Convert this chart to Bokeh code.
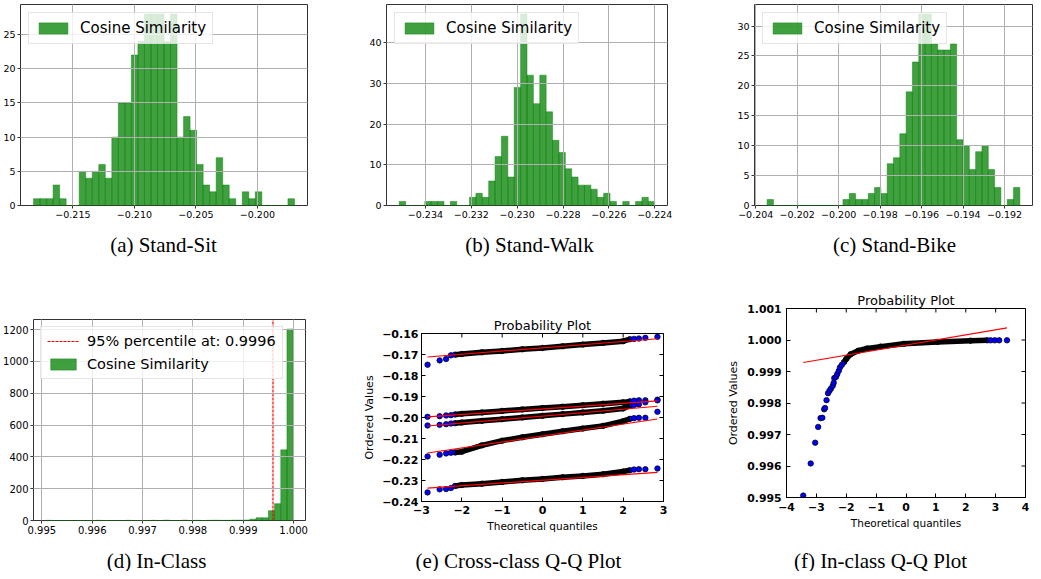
import numpy as np
from bokeh.plotting import figure
from bokeh.models import (Range1d, FixedTicker, CustomJSTickFormatter, Legend, LegendItem)
from bokeh.layouts import row, column
from bokeh.core.properties import value
from bokeh.embed import file_html
from bokeh.resources import INLINE

# ------------------------------------------------------------------ data
# histogram counts (40 bins each) and the data min/max that define the bins
sit_counts = [1, 1, 1, 3, 1, 0, 0, 5, 4, 5, 6, 4, 10, 15, 15, 22, 24, 28, 28, 28,
              24, 28, 10, 13, 11, 6, 3, 2, 7, 3, 1, 0, 2, 1, 2, 0, 0, 0, 0, 1]
sit_range = (-0.21820, -0.19699)
sit_xticks = [-0.215, -0.210, -0.205, -0.200]
sit_yticks = [0, 5, 10, 15, 20, 25]

walk_counts = [1, 0, 0, 0, 1, 1, 1, 0, 1, 0, 0, 2, 3, 2, 6, 12, 17, 7, 29, 47,
               32, 25, 32, 23, 16, 13, 9, 7, 5, 5, 4, 2, 3, 1, 0, 1, 0, 1, 2, 1]
walk_range = (-0.23514, -0.22400)
walk_xticks = [-0.234, -0.232, -0.230, -0.228, -0.226, -0.224]
walk_yticks = [0, 10, 20, 30, 40]

bike_counts = [1, 0, 0, 0, 0, 0, 0, 0, 0, 0, 0, 0, 1, 2, 1, 1, 2, 3, 2, 7,
               8, 12, 19, 24, 32, 32, 27, 26, 26, 27, 11, 10, 6, 9, 10, 6, 3, 0, 1, 3]
bike_range = (-0.20345, -0.19126)
bike_xticks = [-0.204, -0.202, -0.200, -0.198, -0.196, -0.194, -0.192]
bike_yticks = [0, 5, 10, 15, 20, 25, 30]

inclass_counts = [1, 0, 0, 0, 0, 0, 0, 0, 1, 0, 0, 0, 0, 1, 0, 0, 0, 1, 0, 2,
                  0, 0, 2, 0, 1, 0, 1, 2, 1, 1, 2, 2, 3, 8, 17, 17, 62, 106, 444, 1203]
inclass_range = (0.99508, 0.99999)
inclass_xticks = [0.995, 0.996, 0.997, 0.998, 0.999, 1.000]
inclass_yticks = [0, 200, 400, 600, 800, 1000, 1200]
percentile_95 = 0.99959
percentile_label = "95% percentile at: 0.9996"

# cross-class Q-Q plot: theoretical quantiles and ordered values of 5 series
qq_theoretical = [-2.85, -2.55, -2.39, -2.27, -2.17, -2.0, -1.5, -1.0, -0.5, 0.0,
                  0.5, 1.0, 1.5, 2.0, 2.17, 2.27, 2.39, 2.55, 2.85]
qq_series_1 = [-0.17488, -0.17280, -0.17216, -0.17040, -0.17008, -0.16976, -0.16896, -0.16832,
               -0.16752, -0.16688, -0.16608, -0.16528, -0.16448, -0.16368, -0.16272, -0.16256,
               -0.16240, -0.16208, -0.16160]
qq_series_2 = [-0.19967, -0.19935, -0.19903, -0.19887, -0.19855, -0.19823, -0.19759, -0.19687,
               -0.19615, -0.19551, -0.19487, -0.19415, -0.19343, -0.19279, -0.19231, -0.19199,
               -0.19183, -0.19183, -0.19151]
qq_series_3 = [-0.20383, -0.20351, -0.20319, -0.20287, -0.20271, -0.20239, -0.20159, -0.20079,
               -0.19999, -0.19919, -0.19839, -0.19759, -0.19679, -0.19567, -0.19439, -0.19407,
               -0.19375, -0.19279, -0.19183]
qq_series_4 = [-0.21854, -0.21774, -0.21710, -0.21678, -0.21662, -0.21630, -0.21326, -0.21102,
               -0.20942, -0.20798, -0.20654, -0.20526, -0.20398, -0.20175, -0.20063, -0.20031,
               -0.20015, -0.20015, -0.19727]
qq_series_5 = [-0.23566, -0.23422, -0.23406, -0.23358, -0.23262, -0.23214, -0.23150, -0.23070,
               -0.22990, -0.22926, -0.22846, -0.22782, -0.22702, -0.22574, -0.22510, -0.22478,
               -0.22462, -0.22462, -0.22430]
qq_fit_slope = [0.001526, 0.001346, 0.001651, 0.002837, 0.001316]
qq_fit_intercept = [-0.16685, -0.19589, -0.19935, -0.20881, -0.22987]
qq_xticks = [-3, -2, -1, 0, 1, 2, 3]
qq_yticks = [-0.24, -0.23, -0.22, -0.21, -0.20, -0.19, -0.18, -0.17, -0.16]

# in-class Q-Q plot
ic_theoretical = [-3.44, -3.19, -3.04, -2.94, -2.86, -2.80, -2.74, -2.71, -2.66, -2.61, -2.56,
                  -2.51, -2.45, -2.42, -2.40, -2.34, -2.30, -2.25, -2.21, -2.15, -2.08, -2.0,
                  -1.85, -1.6, -1.3, -0.85, -0.07, 1.05, 2.16, 2.72, 2.83, 2.97, 3.12, 3.38]
ic_ordered = [0.99506, 0.99608, 0.99674, 0.99724, 0.99752, 0.99753, 0.99780, 0.99784, 0.99809,
              0.99831, 0.99839, 0.99846, 0.99855, 0.99864, 0.99879, 0.99883, 0.99892, 0.99902,
              0.99913, 0.99921, 0.99929, 0.99940, 0.99955, 0.99966, 0.99973, 0.99979, 0.99988,
              0.99994, 0.99998, 0.99999, 0.99999, 0.99999, 0.99999, 0.99999]
ic_fit_slope = 0.0001612
ic_fit_intercept = 0.999841
ic_xticks = [-4, -3, -2, -1, 0, 1, 2, 3, 4]
ic_yticks = [0.995, 0.996, 0.997, 0.998, 0.999, 1.000, 1.001]

captions_top = ["(a) Stand-Sit", "(b) Stand-Walk", "(c) Stand-Bike"]
captions_bottom = ["(d) In-Class", "(e) Cross-class Q-Q Plot", "(f) In-class Q-Q Plot"]

# ------------------------------------------------------------------ helpers
SANS = "DejaVu Sans"
SERIF = "Liberation Serif"
TOTAL_W = 1033


def fmt(dp):
    return CustomJSTickFormatter(args=dict(dp=dp), code="""
        if (Math.abs(tick) < 1e-12) { return (0).toFixed(dp); }
        const s = Math.abs(tick).toFixed(dp);
        return tick < 0 ? "\\u2212" + s : s;
    """)


def base_fig(w, h, bl, br, bt, bb, xr, yr):
    p = figure(width=w, height=h, x_range=xr, y_range=yr, output_backend="svg",
               toolbar_location=None, min_border_left=bl, min_border_right=br,
               min_border_top=bt, min_border_bottom=bb)
    p.background_fill_color = "white"
    p.border_fill_color = "white"
    return p


def caption_strip(h, xs, texts, y):
    p = figure(width=TOTAL_W, height=h, x_range=Range1d(0, TOTAL_W), y_range=Range1d(0, h),
               output_backend="svg", toolbar_location=None, min_border=0,
               x_axis_type=None, y_axis_type=None)
    p.outline_line_color = None
    p.grid.visible = False
    p.text(x=xs, y=[y] * len(xs), text=texts, text_align="center", text_baseline="middle",
           text_font=value(SERIF), text_font_size=value("21px"), text_color="black")
    return p


def hist_panel(counts, rng, xticks, yticks, xdp, w, h, bl, br, bt, bb, font_size,
               extra_line=None):
    lo, hi = rng
    edges = np.linspace(lo, hi, len(counts) + 1)
    pad = 0.05 * (hi - lo)
    ymax = 1.05 * max(counts)
    p = base_fig(w, h, bl, br, bt, bb, Range1d(lo - pad, hi + pad), Range1d(0, ymax))
    bars = p.quad(left=edges[:-1], right=edges[1:], bottom=0, top=counts,
                  fill_color="#008000", fill_alpha=0.75, line_color="#008000",
                  line_alpha=0.75, line_width=0.6)
    items = []
    if extra_line is not None:
        ln = p.line(x=[extra_line, extra_line], y=[0, ymax], line_color="#ff0000",
                    line_width=1.2, line_dash="3 1")
        items.append(LegendItem(label=percentile_label, renderers=[ln]))
    items.append(LegendItem(label="Cosine Similarity", renderers=[bars]))

    p.xaxis.ticker = FixedTicker(ticks=xticks)
    p.yaxis.ticker = FixedTicker(ticks=yticks)
    p.xaxis.formatter = fmt(xdp)
    p.yaxis.formatter = fmt(0)
    for ax in (p.xaxis, p.yaxis):
        ax.axis_line_color = None
        ax.major_tick_out = 3
        ax.major_tick_in = 0
        ax.major_tick_line_color = "black"
        ax.major_tick_line_width = 0.8
        ax.minor_tick_line_color = None
        ax.major_label_text_font = SANS
        ax.major_label_text_font_size = font_size
        ax.major_label_text_color = "black"
    p.xaxis.major_label_standoff = 2
    p.yaxis.major_label_standoff = 2
    p.xgrid.ticker = FixedTicker(ticks=xticks)
    p.ygrid.ticker = FixedTicker(ticks=yticks)
    for g in (p.xgrid, p.ygrid):
        g.grid_line_color = "#b0b0b0"
        g.grid_line_width = 1
        g.level = "annotation"
    p.outline_line_color = "#333333"
    p.outline_line_width = 1

    two = extra_line is not None
    leg = Legend(items=items, location="top_left", margin=7 if two else 8,
                 padding=6, spacing=7 if two else 0,
                 glyph_width=32 if two else 36, glyph_height=14,
                 label_standoff=8 if two else 9, label_height=14,
                 label_text_font=SANS, label_text_font_size="14.5px" if two else "15px",
                 label_text_color="black",
                 border_line_color="#cccccc", border_line_width=1,
                 background_fill_color="white", background_fill_alpha=0.8)
    leg.level = "overlay"
    p.add_layout(leg)
    return p


def qq_style(p, xticks, yticks, ydp, tick_font, ylab_font, title_font,
             ystand, xstand, ylab_stand, xlab_stand):
    p.title.text = "Probability Plot"
    p.title.align = "center"
    p.title.text_font = SANS
    p.title.text_font_size = title_font
    p.title.text_font_style = "normal"
    p.title.text_color = "black"
    p.title.standoff = 2
    p.xaxis.ticker = FixedTicker(ticks=xticks)
    p.yaxis.ticker = FixedTicker(ticks=yticks)
    p.xaxis.formatter = fmt(0)
    p.yaxis.formatter = fmt(ydp)
    p.xaxis.axis_label = "Theoretical quantiles"
    p.yaxis.axis_label = "Ordered Values"
    for ax in (p.xaxis, p.yaxis):
        ax.axis_line_color = "black"
        ax.major_tick_in = 4
        ax.major_tick_out = 0
        ax.major_tick_line_color = "black"
        ax.minor_tick_line_color = None
        ax.major_label_text_font = SANS
        ax.major_label_text_font_style = "bold"
        ax.major_label_text_font_size = tick_font
        ax.major_label_text_color = "black"
        ax.axis_label_text_font = SANS
        ax.axis_label_text_font_style = "normal"
        ax.axis_label_text_color = "black"
    p.xaxis.axis_label_text_font_size = "10.5px"
    p.yaxis.axis_label_text_font_size = ylab_font
    p.yaxis.major_label_standoff = ystand
    p.xaxis.major_label_standoff = xstand
    p.yaxis.axis_label_standoff = ylab_stand
    p.xaxis.axis_label_standoff = xlab_stand
    p.xgrid.visible = False
    p.ygrid.visible = False
    p.outline_line_color = "black"
    p.outline_line_width = 1
    # mirrored inward ticks on the top and right edges (outer halves clipped by the frame)
    x1 = p.x_range.end
    y1 = p.y_range.end
    p.scatter(x=xticks, y=[y1] * len(xticks), marker="dash", angle=np.pi / 2, size=8,
              line_color="black", line_width=1)
    p.scatter(x=[x1] * len(yticks), y=yticks, marker="dash", size=8,
              line_color="black", line_width=1)


# ------------------------------------------------------------------ row 1
pa = hist_panel(sit_counts, sit_range, sit_xticks, sit_yticks, 3,
                345, 225, 20, 38, 4, 20, "9.5px")
pb = hist_panel(walk_counts, walk_range, walk_xticks, walk_yticks, 3,
                360, 225, 41, 38, 4, 20, "9.5px")
pc = hist_panel(bike_counts, bike_range, bike_xticks, bike_yticks, 3,
                328, 225, 49, 1, 4, 20, "9.5px")
cap1 = caption_strip(40, [163, 529, 894], captions_top, 21)

# ------------------------------------------------------------------ row 2
pd_ = hist_panel(inclass_counts, inclass_range, inclass_xticks, inclass_yticks, 3,
                 345, 280, 32, 40, 54, 25, "10px", extra_line=percentile_95)

pe = base_fig(345, 280, 76, 27, 68, 44, Range1d(-3, 3), Range1d(-0.24, -0.16))
qq_style(pe, qq_xticks, qq_yticks, 2, "11px", "11px", "13px", 3, 4, 3, 3)
all_series = [qq_series_1, qq_series_2, qq_series_3, qq_series_4, qq_series_5]
q = np.array(qq_theoretical)
dense = (q >= -2.2) & (q <= 2.2)
for vals in all_series:
    v = np.array(vals)
    pe.scatter(q, v, size=5.5, fill_color="#0000ff", line_color="black", line_width=0.7)
    pe.line(q[dense], v[dense], line_color="black", line_width=5.5, line_join="round")
for k, b in zip(qq_fit_slope, qq_fit_intercept):
    x_ends = [q[0], q[-1]]
    pe.line(x_ends, [b + k * x for x in x_ends], line_color="red", line_width=1.2)

pf = base_fig(343, 280, 96, 8, 43, 48, Range1d(-4, 4), Range1d(0.995, 1.001))
qq_style(pf, ic_xticks, ic_yticks, 3, "10.8px", "11px", "13px", 5, 5, 4, 3)
iq = np.array(ic_theoretical)
iv = np.array(ic_ordered)
idense = (iq >= -2.1) & (iq <= 2.72)
pf.scatter(iq, iv, size=5.5, fill_color="#0000ff", line_color="black", line_width=0.7)
pf.line(iq[idense], iv[idense], line_color="black", line_width=5.5, line_join="round")
ends = [iq[0], iq[-1]]
pf.line(ends, [ic_fit_intercept + ic_fit_slope * x for x in ends], line_color="red",
        line_width=1.2)

cap2 = caption_strip(26, [156, 518, 880], captions_bottom, 11)

layout = column(
    row(column(pa), column(pb), column(pc), spacing=0),
    cap1,
    row(column(pd_), column(pe), column(pf), spacing=0),
    cap2,
    spacing=0,
)

with open("out.html", "w", encoding="utf-8") as f:
    f.write(file_html(layout, INLINE))
